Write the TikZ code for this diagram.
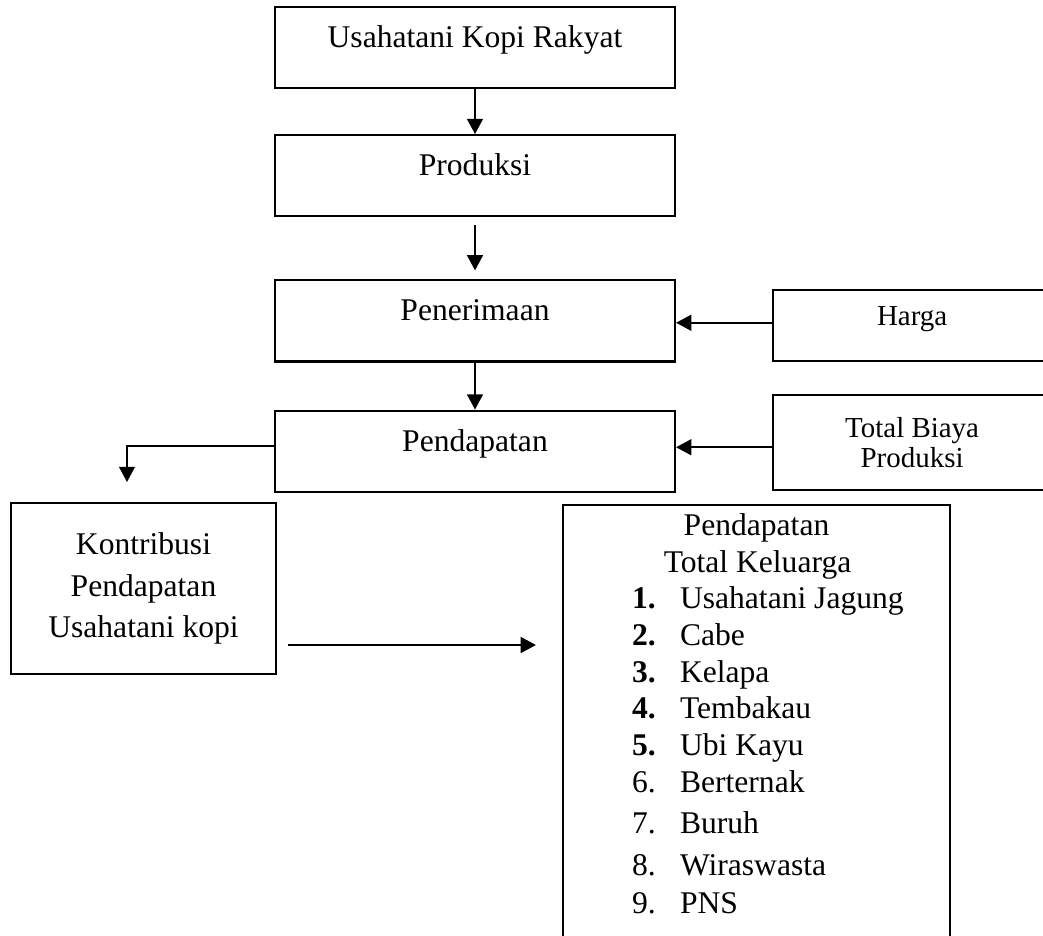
\documentclass[tikz,border=0pt]{standalone}
\usepackage{fontspec}
\setmainfont{Liberation Serif}
\usetikzlibrary{arrows.meta,positioning}
\tikzset{>={Triangle[length=5.8pt,width=6pt]}}
\tikzset{
  kotak/.style={draw,line width=0.8pt,font=\fontsize{12pt}{13.8pt}\selectfont},
  utama/.style={kotak,minimum width=152pt,minimum height=30.8pt},
  sebaris/.style={text height=4pt,text depth=4pt},
  kotakkecil/.style={draw,line width=0.8pt,minimum width=105.6pt,font=\fontsize{11pt}{11.4pt}\selectfont},
  teks/.style={inner sep=0pt,font=\fontsize{12pt}{13.8pt}\selectfont}
}

\begin{document}
\begin{tikzpicture}[x=0.38pt,y=-0.38pt,line width=0.8pt]
    \useasboundingbox (0,0) rectangle (1043,935);
    \clip (0,0) rectangle (1043,935);
    % kolom tengah
    \node[utama,sebaris] (rakyat) at (475,47.5) {Usahatani Kopi Rakyat};
    \node[utama,sebaris] (produksi) [below=17.1pt of rakyat] {Produksi};
    \node[utama,sebaris] (penerimaan) [below=23.6pt of produksi] {Penerimaan};
    \node[utama,sebaris] (pendapatan) [below=17.9pt of penerimaan] {Pendapatan};
    % kotak kanan
    \node[kotakkecil,sebaris,minimum height=27pt] (harga) [right=36.5pt of penerimaan,yshift=-1.7pt] {Harga};
    \node[kotakkecil,minimum height=36.1pt,align=center] (biaya) [right=36.5pt of pendapatan,yshift=3.2pt] {Total Biaya\\Produksi};
    % kotak bawah
    \node[kotak,minimum width=100.7pt,minimum height=65pt,align=center,font=\fontsize{12pt}{15.8pt}\selectfont] (kontribusi) at (143.5,588.5) {Kontribusi\\Pendapatan\\Usahatani kopi};
    \node[kotak,minimum width=147pt,minimum height=173pt,anchor=north] (keluarga) at (756.5,504) {};
    \node[teks,anchor=base] (judul1) at (756.5,535) {Pendapatan};
    \node[teks,anchor=base] (judul2) at (757.5,572) {Total Keluarga};
    \foreach \k/\yy/\lbl in {1/608/Usahatani Jagung,2/645/Cabe,3/682/Kelapa,4/718/Tembakau,5/755/Ubi Kayu,6/792/Berternak,7/833/Buruh,8/875/Wiraswasta,9/913/PNS}{
        \node[teks,anchor=base west] (no\k) at (631,\yy) {\ifnum\k<6 \textbf{\k.}\else\k.\fi};
        \node[teks,anchor=base west] (isi\k) at (679,\yy) {\lbl};
    }
    % panah
    \coordinate (belok) at (127,482);
    \coordinate (garis) at (0,645);
    \draw[->] (rakyat) -- (produksi);
    \draw[->,shorten <=3pt,shorten >=3.4pt] (produksi) -- (penerimaan);
    \draw[->] (penerimaan) -- (pendapatan);
    \draw[->] ([yshift=1pt]harga.west) -- ([yshift=1pt]harga.west -| penerimaan.east);
    \draw[->] ([yshift=-1.7pt]biaya.west) -- ([yshift=-1.7pt]biaya.west -| pendapatan.east);
    \draw[->] ([yshift=1.9pt]pendapatan.west) -| (belok);
    \draw[->,shorten <=4.2pt,shorten >=9.9pt] (kontribusi.east |- garis) -- (keluarga.west |- garis);
\end{tikzpicture}
\end{document}
